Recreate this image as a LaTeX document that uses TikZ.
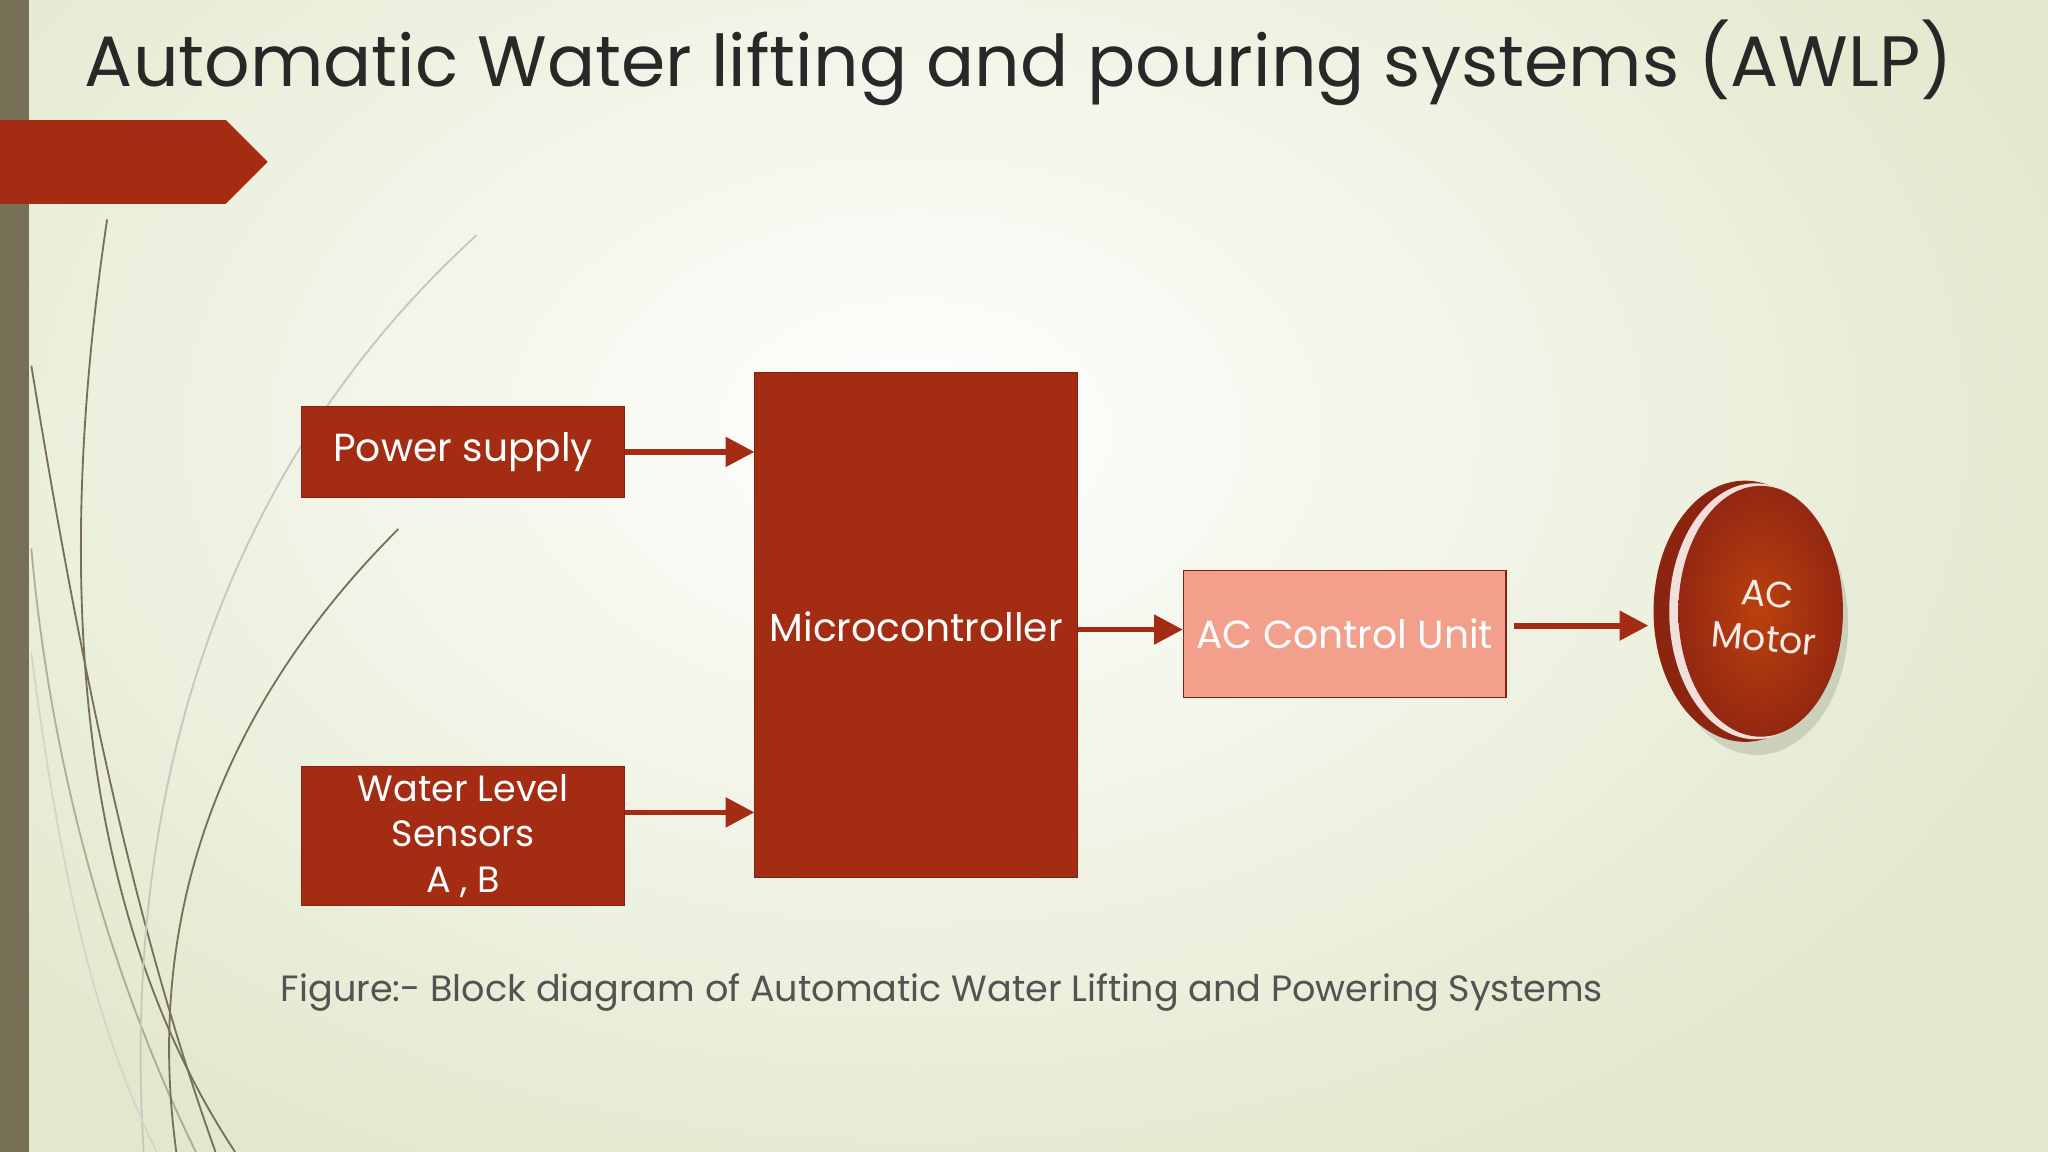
\documentclass[tikz,border=0pt]{standalone}
\usepackage{fontspec}
\setmainfont{Poppins}
\usetikzlibrary{arrows.meta,shapes.geometric}
\definecolor{rust}{RGB}{164,44,19}
\definecolor{salmon}{RGB}{242,160,140}
\definecolor{olive}{RGB}{120,112,86}
\definecolor{bgout}{RGB}{226,232,204}
\definecolor{txt}{RGB}{40,40,40}
\begin{document}
\begin{tikzpicture}[x=0.5pt,y=-0.5pt,
  blk/.style={draw=rust!80!black,fill=rust,text=white,font=\fontsize{15}{18}\selectfont,align=center,inner sep=0pt},
  conn/.style={draw=rust,line width=2.2pt,-{Triangle[length=11pt,width=11pt]}},
  deco/.style={draw=olive,line width=0.7pt}]
\useasboundingbox (0,0) rectangle (1568,882);
\fill[bgout] (0,0) rectangle (1568,882);
\shade[inner color=white,outer color=bgout] (700,330) ellipse (950 and 640);
\begin{scope}
\clip (0,0) rectangle (1568,882);
\draw[deco] (82,168) .. controls (40,450) and (60,700) .. (180,882);
\draw[deco] (24,280) .. controls (60,500) and (100,700) .. (165,882);
\draw[deco,opacity=0.5] (24,420) .. controls (40,600) and (90,760) .. (150,882);
\draw[deco] (305,405) .. controls (170,540) and (110,700) .. (135,882);
\draw[deco,draw=olive!40] (365,180) .. controls (200,330) and (90,560) .. (110,882);
\draw[deco,draw=olive!30] (24,500) .. controls (50,700) and (80,800) .. (120,882);
\end{scope}
\fill[olive] (0,0) rectangle (22,882);
\fill[rust] (0,92) -- (173,92) -- (205,124) -- (173,156) -- (0,156) -- cycle;
\node[anchor=west,text=txt,font=\fontsize{27.3}{32}\selectfont] (title) at (58,48) {Automatic Water lifting and pouring systems (AWLP)};
\node[blk,minimum width=123.5pt,minimum height=35pt] (ps) at (354.5,346) {Power supply};
\node[blk,minimum width=123.5pt,minimum height=53pt,font=\fontsize{14}{17.5}\selectfont] (wl) at (354.5,640) {Water Level\\Sensors\\A , B};
\node[blk,minimum width=123.5pt,minimum height=193.5pt] (mc) at (701.5,478.5) {};
\node[text=white,font=\fontsize{15}{18}\selectfont] (mct) at (701.5,480) {Microcontroller};
\node[blk,fill=salmon,minimum width=123.5pt,minimum height=48.5pt] (acu) at (1029.5,485.5) {AC Control Unit};
% motor
\coordinate (mot) at (1262,472);
\fill[black,opacity=0.12] (1345,478) ellipse (70 and 100);
\fill[rust!85!black] (1336,468) ellipse (70 and 100);
\fill[white!85!rust] (1344,468) ellipse (66 and 98);
\shade[inner color=rust!75!orange,outer color=rust!90!black] (1348,468) ellipse (63 and 96);
\node[text=white!90!rust,rotate=-5,align=center,font=\fontsize{14}{17}\selectfont] (mt) at (1352,472) {AC\\Motor};
\draw[conn] (ps.east) -- (ps.east -| mc.west);
\draw[conn] (wl.east |- 0,622) -- (mc.west |- 0,622);
\draw[conn] (mc.east |- 0,482) -- (acu.west |- 0,482);
\draw[conn] (acu.east |- 0,479) ++(6,0) -- (mot |- 0,479);
\node[anchor=west,text=txt!80,font=\fontsize{14}{17}\selectfont] (cap) at (208,760) {Figure:- Block diagram of Automatic Water Lifting and Powering Systems};
\end{tikzpicture}
\end{document}
